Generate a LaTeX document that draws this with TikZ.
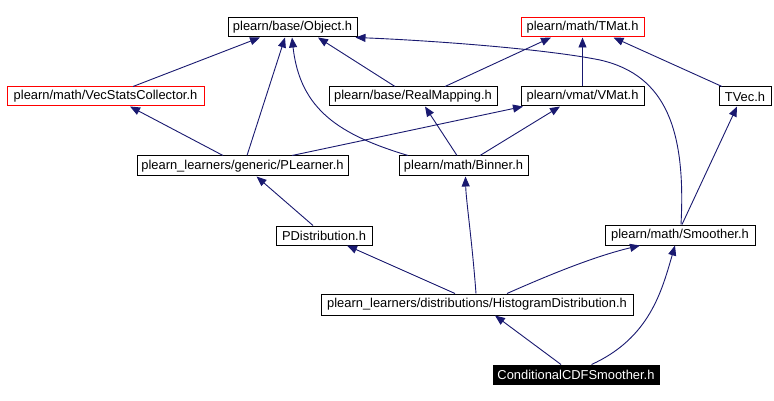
\documentclass[tikz,border=0pt]{standalone}
\usepackage{fontspec}
\setmainfont{Liberation Sans}
\usetikzlibrary{arrows.meta}
\definecolor{edgec}{HTML}{191970}
\definecolor{redc}{HTML}{FF0000}
\begin{document}
\begin{tikzpicture}[x=1pt,y=-1pt,
  box/.style={draw=black, line width=1pt, fill=white, inner sep=0pt, minimum height=19pt,
    font=\fontsize{12.9}{14}\selectfont, text=black, anchor=center},
  redbox/.style={box, draw=redc},
  darkbox/.style={box, fill=black, text=white},
  edge/.style={draw=edgec, line width=0.9pt, -{Triangle[length=10pt,width=8pt]}}]
\useasboundingbox (0,0) rectangle (774,401);
\fill[white] (0,0) rectangle (774,401);

\node[box, minimum width=129pt] (obj) at (292.5,27.5) {plearn/base/Object.h};
\node[redbox, minimum width=123pt] (tmat) at (582.5,27.5) {plearn/math/TMat.h};
\node[redbox, minimum width=197pt] (vsc) at (105.5,96.5) {plearn/math/VecStatsCollector.h};
\node[box, minimum width=168pt] (rm) at (413,96.5) {plearn/base/RealMapping.h};
\node[box, minimum width=123pt] (vmat) at (582.5,96.5) {plearn/vmat/VMat.h};
\node[box, minimum width=52pt] (tvec) at (745,96.5) {TVec.h};
\node[box, minimum width=211pt, minimum height=20pt] (pl) at (242.5,166) {plearn\_learners/generic/PLearner.h};
\node[box, minimum width=129pt, minimum height=20pt] (bn) at (463.5,166) {plearn/math/Binner.h};
\node[box, minimum width=96pt] (pd) at (324,235.5) {PDistribution.h};
\node[box, minimum width=150pt, minimum height=20pt] (sm) at (680,235) {plearn/math/Smoother.h};
\node[box, minimum width=312pt, minimum height=21pt] (hd) at (477,304.5) {plearn\_learners/distributions/HistogramDistribution.h};
\node[darkbox, minimum width=166pt] (cc) at (576,374.5) {ConditionalCDFSmoother.h};

% to Object
\draw[edge] ([xshift=27.5]vsc.north) -- ([xshift=-32.5]obj.south);
\draw[edge] ([xshift=4.5]pl.north) -- ([xshift=-7.5]obj.south);
\draw[edge] ([xshift=-55.5]bn.north) .. controls (340,135) and (300,110) .. ([xshift=-0.5]obj.south);
\draw[edge] ([xshift=-18]rm.north) -- ([xshift=25.5]obj.south);
\draw[edge] ([xshift=1]sm.north) .. controls (686,130) and (666,75) .. (600,60)
   .. controls (540,48) and (420,40) .. ([xshift=-2]obj.south east);
% to TMat
\draw[edge] ([xshift=32]rm.north) -- ([xshift=-31.5]tmat.south);
\draw[edge] (vmat.north) -- (tmat.south);
\draw[edge] ([xshift=-23]tvec.north) -- ([xshift=31]tmat.south);
% PLearner
\draw[edge] ([xshift=-19.5]pl.north) -- ([xshift=24.5]vsc.south);
\draw[edge] ([xshift=49.5]pl.north) -- ([xshift=-59.5]vmat.south);
% Binner
\draw[edge] ([xshift=-6.5]bn.north) -- ([xshift=12]rm.south);
\draw[edge] ([xshift=16.5]bn.north) -- ([xshift=-22.5]vmat.south);
% PDistribution
\draw[edge] ([xshift=-11]pd.north) -- ([xshift=14]pl.south);
% Smoother -> TVec
\draw[edge] ([xshift=2]sm.north) -- ([xshift=-8]tvec.south);
% HistogramDistribution
\draw[edge] ([xshift=-22]hd.north) -- ([xshift=23]pd.south);
\draw[edge] ([xshift=-1]hd.north) .. controls (472,240) and (466,200) .. ([xshift=2]bn.south);
\draw[edge] ([xshift=30]hd.north) .. controls (560,270) and (600,255) .. ([xshift=-40]sm.south);
% Conditional
\draw[edge] ([xshift=-15]cc.north) -- ([xshift=18]hd.south);
\draw[edge] ([xshift=15.5]cc.north) .. controls (650,338) and (662,290) .. ([xshift=-5]sm.south);
\end{tikzpicture}
\end{document}
